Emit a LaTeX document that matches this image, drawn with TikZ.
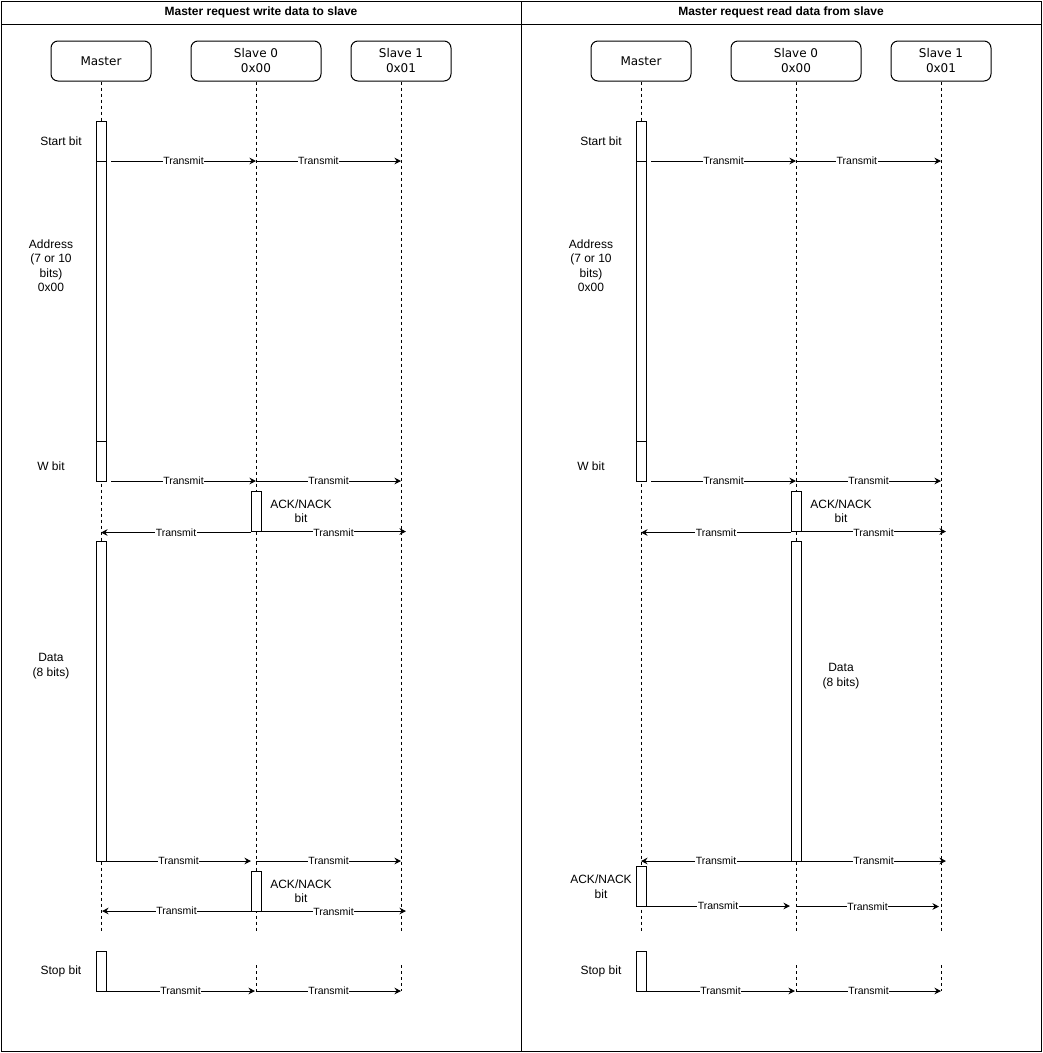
\documentclass[tikz,border=0pt]{standalone}
\usepackage{fontspec}
\setmainfont{Liberation Sans}
\newfontfamily\lifefont{DejaVu Sans}
\usetikzlibrary{arrows.meta}
\begin{document}
\begin{tikzpicture}[x=1pt,y=-1pt,
  panel/.style={draw, line width=1pt, anchor=north west, minimum width=520pt, minimum height=1050pt, inner sep=0pt},
  ttl/.style={font=\bfseries\fontsize{12}{14}\selectfont},
  head/.style={draw, line width=1pt, rounded corners=7pt, minimum height=40pt, align=center, font=\lifefont\fontsize{12}{15}\selectfont, inner sep=0pt},
  life/.style={dash pattern=on 3pt off 3pt, line width=0.9pt},
  bar/.style={draw, fill=white, line width=1pt, minimum width=10pt, inner sep=0pt, outer sep=0pt, anchor=north},
  msg/.style={line width=1pt, -{Stealth[length=6.5pt,width=6.5pt]}},
  lbl/.style={fill=white, inner sep=0.6pt, font=\fontsize{10.5}{12}\selectfont},
  note/.style={align=center, font=\fontsize{12}{14.5}\selectfont}
]
\useasboundingbox (0,0) rectangle (1043,1053);
% panels
\node[panel] (panL) at (1,1) {};
\node[panel] (panR) at (521,1) {};
\coordinate (hl) at (1,24);
\coordinate (hr) at (1041,24);
\draw[line width=1pt] (hl) -- (hr);
\node[ttl] (titleL) at (261,12.5) {Master request write data to slave};
\node[ttl] (titleR) at (781,12.5) {Master request read data from slave};

% heads
\node[head, minimum width=100pt] (mL) at (101,61) {Master};
\node[head, minimum width=130pt] (s0L) at (256,61) {Slave 0\\0x00};
\node[head, minimum width=100pt] (s1L) at (401,61) {Slave 1\\0x01};
\node[head, minimum width=100pt] (mR) at (641,61) {Master};
\node[head, minimum width=130pt] (s0R) at (796,61) {Slave 0\\0x00};
\node[head, minimum width=100pt] (s1R) at (941,61) {Slave 1\\0x01};

% lifeline coordinates
\coordinate (mLe) at (101,931);
\coordinate (s0Le) at (256,931);
\coordinate (s1Le) at (401,931);
\coordinate (mRe) at (641,931);
\coordinate (s0Re) at (796,931);
\coordinate (s1Re) at (941,931);
\coordinate (s0Lb) at (256,965);
\coordinate (s0Lc) at (256,991);
\coordinate (s1Lb) at (401,965);
\coordinate (s1Lc) at (401,991);
\coordinate (s0Rb) at (796,965);
\coordinate (s0Rc) at (796,991);
\coordinate (s1Rb) at (941,965);
\coordinate (s1Rc) at (941,991);

\draw[life] (mL.south) -- (mLe);
\draw[life] (s0L.south) -- (s0Le);
\draw[life] (s1L.south) -- (s1Le);
\draw[life] (mR.south) -- (mRe);
\draw[life] (s0R.south) -- (s0Re);
\draw[life] (s1R.south) -- (s1Re);
\draw[life] (s0Lb) -- (s0Lc);
\draw[life] (s1Lb) -- (s1Lc);
\draw[life] (s0Rb) -- (s0Rc);
\draw[life] (s1Rb) -- (s1Rc);

% bars left
\node[bar, minimum height=40pt] (LbStart) at (101,121) {};
\node[bar, minimum height=280pt] (LbAddr) at (101,161) {};
\node[bar, minimum height=40pt] (LbW) at (101,441) {};
\node[bar, minimum height=40pt] (LbAck1) at (256,491) {};
\node[bar, minimum height=320pt] (LbData) at (101,541) {};
\node[bar, minimum height=40pt] (LbAck2) at (256,871) {};
\node[bar, minimum height=40pt] (LbStop) at (101,951) {};
% bars right
\node[bar, minimum height=40pt] (RbStart) at (641,121) {};
\node[bar, minimum height=280pt] (RbAddr) at (641,161) {};
\node[bar, minimum height=40pt] (RbW) at (641,441) {};
\node[bar, minimum height=40pt] (RbAck1) at (796,491) {};
\node[bar, minimum height=320pt] (RbData) at (796,541) {};
\node[bar, minimum height=40pt] (RbAck2) at (641,866) {};
\node[bar, minimum height=40pt] (RbStop) at (641,951) {};

% message coordinates left
\coordinate (La1) at (111,161);
\coordinate (La2) at (256,161);
\coordinate (La3) at (401,161);
\coordinate (Lb1) at (111,481);
\coordinate (Lb2) at (256,481);
\coordinate (Lb3) at (401,481);
\coordinate (Lc1) at (251,532.5);
\coordinate (Lc2) at (101,532.5);
\coordinate (Lc3) at (261,531.5);
\coordinate (Lc4) at (406,531.5);
\coordinate (Ld1) at (106,861);
\coordinate (Ld2) at (251,861);
\coordinate (Ld3) at (256,861);
\coordinate (Ld4) at (401,861);
\coordinate (Le1) at (251,911);
\coordinate (Le2) at (102,911);
\coordinate (Le3) at (261,911);
\coordinate (Le4) at (406,911);
\coordinate (Lf1) at (106,991);
\coordinate (Lf2) at (255,991);
\coordinate (Lf3) at (256,991);
\coordinate (Lf4) at (401,991);

\draw[msg] (La1) -- node[lbl]{Transmit} (La2);
\draw[msg] (La2) -- node[lbl, pos=0.43]{Transmit} (La3);
\draw[msg] (Lb1) -- node[lbl]{Transmit} (Lb2);
\draw[msg] (Lb2) -- node[lbl]{Transmit} (Lb3);
\draw[msg] (Lc1) -- node[lbl]{Transmit} (Lc2);
\draw[msg] (Lc3) -- node[lbl, yshift=-1pt]{Transmit} (Lc4);
\draw[msg] (Ld1) -- node[lbl]{Transmit} (Ld2);
\draw[msg] (Ld3) -- node[lbl]{Transmit} (Ld4);
\draw[msg] (Le1) -- node[lbl]{Transmit} (Le2);
\draw[msg] (Le3) -- node[lbl, yshift=-1pt]{Transmit} (Le4);
\draw[msg] (Lf1) -- node[lbl]{Transmit} (Lf2);
\draw[msg] (Lf3) -- node[lbl]{Transmit} (Lf4);

% message coordinates right
\coordinate (Ra1) at (651,161);
\coordinate (Ra2) at (796,161);
\coordinate (Ra3) at (941,161);
\coordinate (Rb1) at (651,481);
\coordinate (Rb2) at (796,481);
\coordinate (Rb3) at (941,481);
\coordinate (Rc1) at (791,532.5);
\coordinate (Rc2) at (641,532.5);
\coordinate (Rc3) at (801,531.5);
\coordinate (Rc4) at (946,531.5);
\coordinate (Rd1) at (791,861);
\coordinate (Rd2) at (641,861);
\coordinate (Rd3) at (801,861);
\coordinate (Rd4) at (946,861);
\coordinate (Re1) at (646,906);
\coordinate (Re2) at (790,906);
\coordinate (Re3) at (796,906.5);
\coordinate (Re4) at (939,906.5);
\coordinate (Rf1) at (646,991);
\coordinate (Rf2) at (795,991);
\coordinate (Rf3) at (796,991);
\coordinate (Rf4) at (941,991);

\draw[msg] (Ra1) -- node[lbl]{Transmit} (Ra2);
\draw[msg] (Ra2) -- node[lbl, pos=0.42]{Transmit} (Ra3);
\draw[msg] (Rb1) -- node[lbl]{Transmit} (Rb2);
\draw[msg] (Rb2) -- node[lbl]{Transmit} (Rb3);
\draw[msg] (Rc1) -- node[lbl]{Transmit} (Rc2);
\draw[msg] (Rc3) -- node[lbl, yshift=-1pt]{Transmit} (Rc4);
\draw[msg] (Rd1) -- node[lbl]{Transmit} (Rd2);
\draw[msg] (Rd3) -- node[lbl]{Transmit} (Rd4);
\draw[msg] (Re1) -- node[lbl]{Transmit} (Re2);
\draw[msg] (Re3) -- node[lbl]{Transmit} (Re4);
\draw[msg] (Rf1) -- node[lbl]{Transmit} (Rf2);
\draw[msg] (Rf3) -- node[lbl]{Transmit} (Rf4);

% notes left
\node[note] (nStartL) at (61,141) {Start bit};
\node[note] (nAddrL) at (51,265.5) {Address\\(7 or 10\\bits)\\0x00};
\node[note] (nWL) at (51,466) {W bit};
\node[note] (nAck1L) at (301,511) {ACK/NACK\\bit};
\node[note] (nDataL) at (51,666) {Data\\(8 bits)};
\node[note] (nAck2L) at (301,891) {ACK/NACK\\bit};
\node[note] (nStopL) at (61,971) {Stop bit};
% notes right
\node[note] (nStartR) at (601,141) {Start bit};
\node[note] (nAddrR) at (591,265.5) {Address\\(7 or 10\\bits)\\0x00};
\node[note] (nWR) at (591,466) {W bit};
\node[note] (nAck1R) at (841,511) {ACK/NACK\\bit};
\node[note] (nDataR) at (841,676) {Data\\(8 bits)};
\node[note] (nAck2R) at (601,886.5) {ACK/NACK\\bit};
\node[note] (nStopR) at (601,971) {Stop bit};
\end{tikzpicture}
\end{document}
